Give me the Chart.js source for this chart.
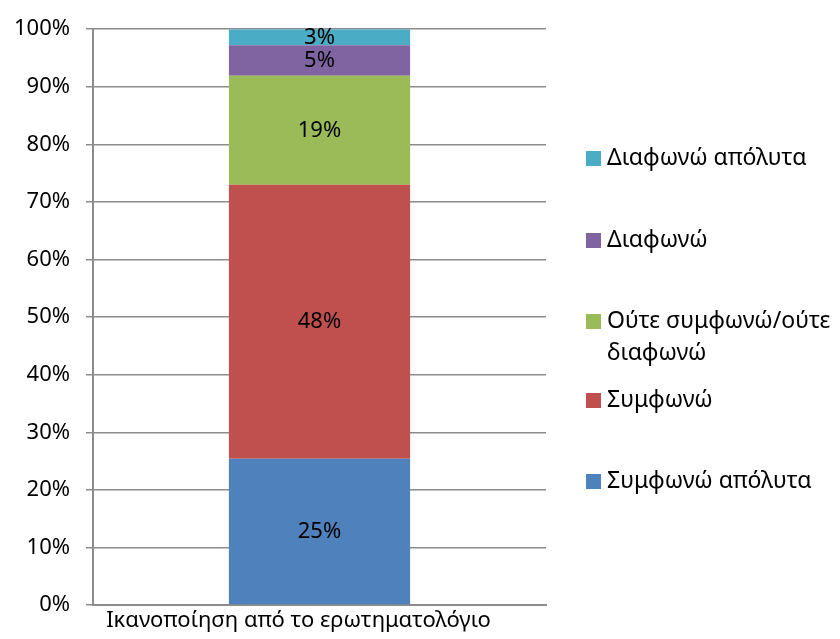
<!DOCTYPE html>
<html>
<head>
<meta charset="utf-8">
<script src="https://cdn.jsdelivr.net/npm/chart.js@4"></script>
<style>
  html, body { margin: 0; padding: 0; background: #fff; }
  #wrap { width: 840px; height: 639px; }
</style>
</head>
<body>
<div id="wrap"><canvas id="chart" width="840" height="639"></canvas></div>
<script>
// data
const categories = ['Ικανοποίηση από το ερωτηματολόγιο'];
const seriesNames = ['Συμφωνώ απόλυτα', 'Συμφωνώ', 'Ούτε συμφωνώ/ούτε διαφωνώ', 'Διαφωνώ', 'Διαφωνώ απόλυτα'];
const seriesValues = [25.4, 47.6, 18.9, 5.3, 2.8];
const valueLabels = ['25%', '48%', '19%', '5%', '3%'];
const yTicks = [0, 10, 20, 30, 40, 50, 60, 70, 80, 90, 100];
const colors = ['#4F81BD', '#C0504D', '#9BBB59', '#8064A2', '#4BACC6'];

const FONT = '"Noto Sans", "Open Sans", sans-serif';

const datasets = seriesNames.map((name, i) => ({
    label: name,
    data: [seriesValues[i]],
    backgroundColor: colors[i],
    borderWidth: 0,
    barPercentage: 0.4,
    categoryPercentage: 1.0
}));

// labels inside the bar segments
const valueLabelPlugin = {
    id: 'valueLabels',
    afterDatasetsDraw(chart) {
        const ctx = chart.ctx;
        ctx.save();
        ctx.font = '22px ' + FONT;
        ctx.fillStyle = '#000';
        ctx.textAlign = 'center';
        ctx.textBaseline = 'middle';
        chart.data.datasets.forEach((ds, i) => {
            const bar = chart.getDatasetMeta(i).data[0];
            const mid = (bar.y + bar.base) / 2;
            ctx.fillText(valueLabels[i], bar.x, mid);
        });
        ctx.restore();
    }
};

// legend on the right, reversed order, spread out like Excel
const sideLegend = {
    id: 'sideLegend',
    afterDraw(chart) {
        const ctx = chart.ctx;
        const rows = [
            { i: 4, y: 158, lines: ['Διαφωνώ απόλυτα'] },
            { i: 3, y: 240, lines: ['Διαφωνώ'] },
            { i: 2, y: 321, lines: ['Ούτε συμφωνώ/ούτε', 'διαφωνώ'] },
            { i: 1, y: 400, lines: ['Συμφωνώ'] },
            { i: 0, y: 481, lines: ['Συμφωνώ απόλυτα'] }
        ];
        ctx.save();
        ctx.font = '23px ' + FONT;
        ctx.textBaseline = 'middle';
        ctx.textAlign = 'left';
        rows.forEach(r => {
            ctx.fillStyle = chart.data.datasets[r.i].backgroundColor;
            ctx.fillRect(586, r.y - 7, 15, 15);
            ctx.fillStyle = '#000';
            r.lines.forEach((t, k) => ctx.fillText(t, 607, r.y + k * 32));
        });
        ctx.restore();
    }
};

new Chart(document.getElementById('chart'), {
    type: 'bar',
    data: { labels: categories, datasets: datasets },
    options: {
        responsive: false,
        animation: false,
        layout: { padding: { top: 26, right: 294, left: 0, bottom: 0 } },
        plugins: { legend: { display: false }, tooltip: { enabled: false } },
        scales: {
            x: {
                stacked: true,
                grid: { display: false, drawTicks: false },
                border: { display: true, color: '#8c8c8c', width: 2 },
                ticks: { color: '#000', font: { family: FONT, size: 22 }, padding: 3, labelOffset: -21 },
                afterFit(scale) { scale.height = 34; }
            },
            y: {
                stacked: true,
                min: 0,
                max: 100,
                afterBuildTicks(scale) { scale.ticks = yTicks.map(v => ({ value: v })); },
                grid: { color: '#8c8c8c', lineWidth: 1.5, tickLength: 7 },
                border: { display: true, color: '#8c8c8c', width: 2 },
                ticks: {
                    color: '#000',
                    font: { family: FONT, size: 22 },
                    padding: 16,
                    callback: v => v + '%'
                },
                afterFit(scale) { scale.width = 93; }
            }
        }
    },
    plugins: [valueLabelPlugin, sideLegend]
});
</script>
</body>
</html>
